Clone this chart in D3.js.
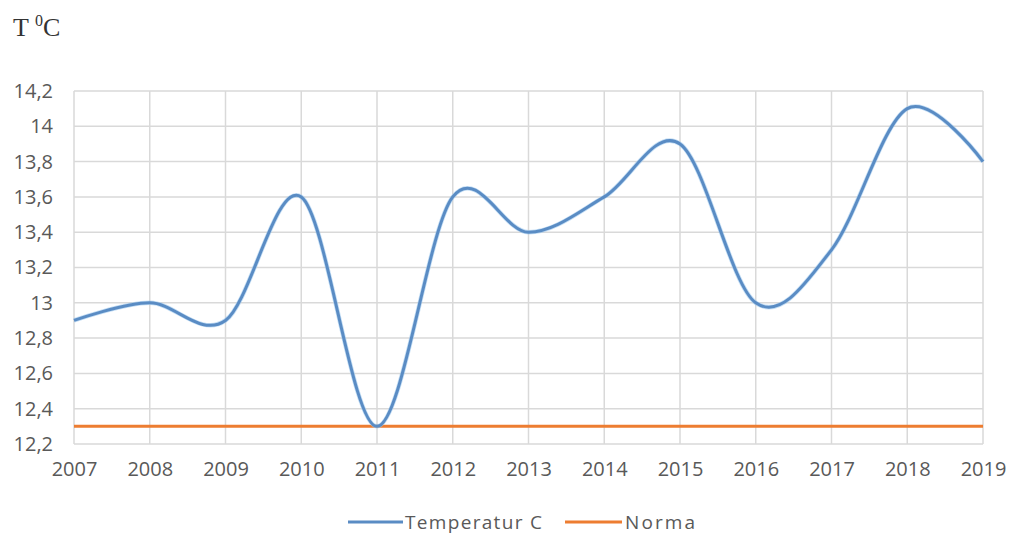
<!DOCTYPE html>
<html><head><meta charset="utf-8">
<script src="https://cdn.jsdelivr.net/npm/d3@7"></script>
<style>
html,body{margin:0;padding:0;background:#fff;}
svg{display:block;}
</style></head>
<body>
<svg id="chart" width="1010" height="534"></svg>
<script>
const years = [2007,2008,2009,2010,2011,2012,2013,2014,2015,2016,2017,2018,2019];
const temperature = [12.9,13.0,12.9,13.6,12.3,13.6,13.4,13.6,13.9,13.0,13.3,14.1,13.8];
const norma = [12.3,12.3,12.3,12.3,12.3,12.3,12.3,12.3,12.3,12.3,12.3,12.3,12.3];
const yTicks = [12.2,12.4,12.6,12.8,13,13.2,13.4,13.6,13.8,14,14.2];
const seriesNames = ["Temperatur C","Norma"];

const svg = d3.select("#chart");
const m = {left:74, right:27, top:91, bottom:90};
const W = 1010, H = 534;
const x = d3.scalePoint().domain(years).range([m.left, W - m.right]);
const y = d3.scaleLinear().domain([12.2,14.2]).range([H - m.bottom, m.top]);
const fmt = v => String(v).replace(".", ",");
const textColor = "#595959";
const font = "'Open Sans', sans-serif";

// grid
const g = svg.append("g");
g.selectAll(".hg").data(yTicks).join("line")
  .attr("x1", m.left).attr("x2", W - m.right)
  .attr("y1", d => y(d)).attr("y2", d => y(d))
  .attr("stroke", "#d9d9d9").attr("stroke-width", 1.5);
g.selectAll(".vg").data(years).join("line")
  .attr("x1", d => x(d)).attr("x2", d => x(d))
  .attr("y1", m.top).attr("y2", H - m.bottom)
  .attr("stroke", "#d9d9d9").attr("stroke-width", 1.5);

// axes (labels only)
const yAxis = d3.axisLeft(y).tickValues(yTicks).tickFormat(fmt).tickSize(0).tickPadding(21);
const ya = svg.append("g").attr("transform", `translate(${m.left},0)`).call(yAxis);
ya.select(".domain").remove();
ya.selectAll("text").attr("font-family", font).attr("font-size", 20).attr("fill", textColor);

const xAxis = d3.axisBottom(x).tickSize(0).tickPadding(18);
const xa = svg.append("g").attr("transform", `translate(0,${H - m.bottom})`).call(xAxis);
xa.select(".domain").remove();
xa.selectAll("text").attr("font-family", font).attr("font-size", 20).attr("fill", textColor);

// lines
const lineGen = d3.line().x((d,i) => x(years[i])).y(d => y(d)).curve(d3.curveCardinal.tension(0));
svg.append("path").datum(norma).attr("d", d3.line().x((d,i)=>x(years[i])).y(d=>y(d)))
  .attr("fill","none").attr("stroke","#ed7d31").attr("stroke-width",3);
svg.append("path").datum(temperature).attr("d", lineGen)
  .attr("fill","none").attr("stroke","#9cc8ef").attr("stroke-width",4.5).attr("opacity",0.6);
svg.append("path").datum(temperature).attr("d", lineGen)
  .attr("fill","none").attr("stroke","#5a8cc4").attr("stroke-width",3);

// title
const t = svg.append("text").attr("x", 13).attr("y", 36)
  .attr("font-family", "'Liberation Serif', 'Times New Roman', serif").attr("font-size", 26).attr("fill", "#333");
t.append("tspan").text("T ");
t.append("tspan").attr("font-size", 16).attr("dy", -10).text("0");
t.append("tspan").attr("dy", 10).text("C");

// legend
const legend = [
  {name: seriesNames[0], color: "#5a8cc4", x1: 348, x2: 403, tx: 405, len: 137},
  {name: seriesNames[1], color: "#ed7d31", x1: 565, x2: 622, tx: 625, len: 70}
];
const lg = svg.append("g");
legend.forEach(l => {
  lg.append("line").attr("x1", l.x1).attr("x2", l.x2).attr("y1", 522).attr("y2", 522)
    .attr("stroke", l.color).attr("stroke-width", 3);
  lg.append("text").attr("x", l.tx).attr("y", 529).attr("font-family", font).attr("font-size", 19)
    .attr("fill", textColor).attr("textLength", l.len).attr("lengthAdjust", "spacing").text(l.name);
});
</script>
</body></html>
